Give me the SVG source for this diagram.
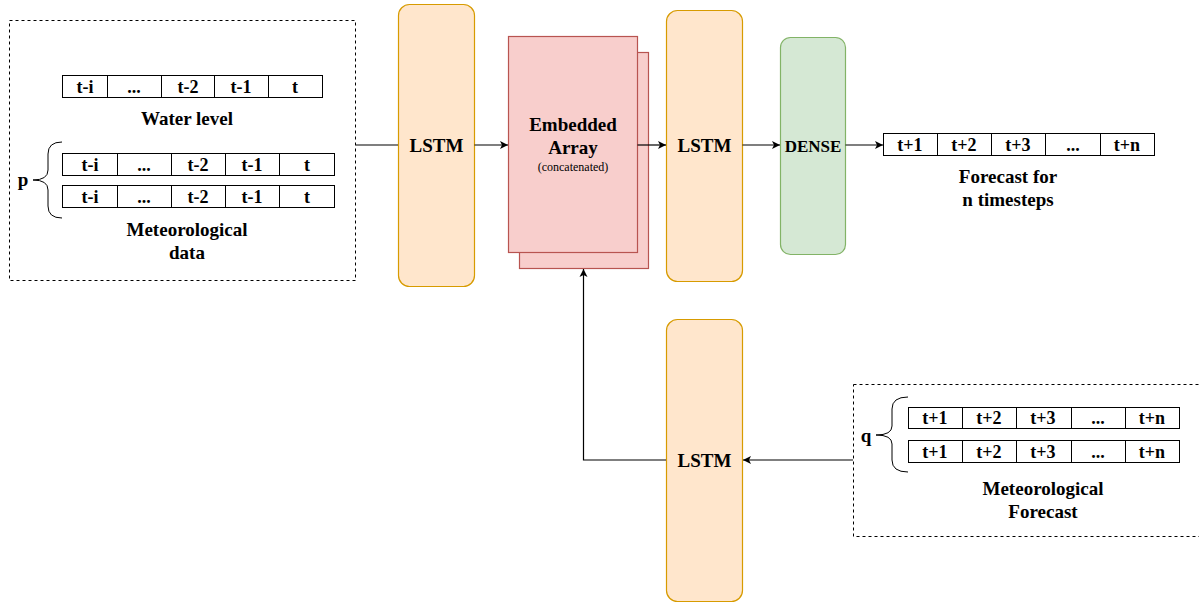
<svg xmlns="http://www.w3.org/2000/svg" width="1199" height="605" viewBox="0 0 1199 605">
<style>
text{font-family:"Liberation Serif","Times New Roman",serif;font-weight:bold;fill:#000;text-anchor:middle}
.cell{fill:#fff;stroke:#000;stroke-width:1}
.ct{font-size:18px}
.lbl{font-size:19px}
.lstm{fill:#ffe6cc;stroke:#d79b00;stroke-width:1.2}
.emb{fill:#f8cecc;stroke:#b85450;stroke-width:1.2}
.dense{fill:#d5e8d4;stroke:#82b366;stroke-width:1.2}
.dash{fill:none;stroke:#000;stroke-width:1;stroke-dasharray:3 3}
.brace{fill:none;stroke:#000;stroke-width:1}
.conn{fill:none;stroke:#000;stroke-width:1.2}
</style>
<defs>
<marker id="arr" markerWidth="10" markerHeight="10" refX="8" refY="5" orient="auto" markerUnits="userSpaceOnUse">
<path d="M0,1 L8,5 L0,9 L2,5 Z" fill="#000"/>
</marker>
</defs>
<rect width="1199" height="605" fill="#fff"/>

<g id="input-history">
<rect class="dash" x="9.5" y="20.5" width="346" height="260"/>
<g id="water-level">
<rect class="cell" x="62.5" y="75.5" width="260" height="22"/>
<line class="cell" x1="107.5" y1="75.5" x2="107.5" y2="97.5"/>
<line class="cell" x1="161.5" y1="75.5" x2="161.5" y2="97.5"/>
<line class="cell" x1="214.5" y1="75.5" x2="214.5" y2="97.5"/>
<line class="cell" x1="268.5" y1="75.5" x2="268.5" y2="97.5"/>
<text class="ct" x="85" y="93">t-i</text>
<text class="ct" x="134" y="93">...</text>
<text class="ct" x="188" y="93">t-2</text>
<text class="ct" x="241" y="93">t-1</text>
<text class="ct" x="295" y="93">t</text>
<text class="lbl" x="187" y="125">Water level</text>
</g>
<g id="met-data">
<rect class="cell" x="62.5" y="153.5" width="272" height="22"/>
<line class="cell" x1="117.5" y1="153.5" x2="117.5" y2="175.5"/>
<line class="cell" x1="171.5" y1="153.5" x2="171.5" y2="175.5"/>
<line class="cell" x1="225.5" y1="153.5" x2="225.5" y2="175.5"/>
<line class="cell" x1="279.5" y1="153.5" x2="279.5" y2="175.5"/>
<text class="ct" x="90" y="171">t-i</text>
<text class="ct" x="144" y="171">...</text>
<text class="ct" x="198" y="171">t-2</text>
<text class="ct" x="252" y="171">t-1</text>
<text class="ct" x="307" y="171">t</text>
<rect class="cell" x="62.5" y="185.5" width="272" height="22"/>
<line class="cell" x1="117.5" y1="185.5" x2="117.5" y2="207.5"/>
<line class="cell" x1="171.5" y1="185.5" x2="171.5" y2="207.5"/>
<line class="cell" x1="225.5" y1="185.5" x2="225.5" y2="207.5"/>
<line class="cell" x1="279.5" y1="185.5" x2="279.5" y2="207.5"/>
<text class="ct" x="90" y="203">t-i</text>
<text class="ct" x="144" y="203">...</text>
<text class="ct" x="198" y="203">t-2</text>
<text class="ct" x="252" y="203">t-1</text>
<text class="ct" x="307" y="203">t</text>
<path class="brace" d="M62,142 Q48,142 48,154 L48,170 Q48,180 33,180 Q48,180 48,190 L48,206 Q48,218 62,218"/>
<text class="lbl" x="23" y="186">p</text>
<text class="lbl" x="187" y="236">Meteorological</text>
<text class="lbl" x="187" y="259">data</text>
</g>
</g>

<g id="lstm1">
<rect class="lstm" x="398.5" y="4.5" width="76" height="282" rx="11"/>
<text class="lbl" x="436.5" y="152">LSTM</text>
</g>

<g id="embedded">
<rect class="emb" x="519.5" y="52.5" width="129" height="216"/>
<rect class="emb" x="508.5" y="36.5" width="129" height="216"/>
<text class="lbl" x="573" y="131">Embedded</text>
<text class="lbl" x="573" y="154">Array</text>
<text x="573" y="171" style="font-size:12px;font-weight:normal">(concatenated)</text>
</g>

<g id="lstm2">
<rect class="lstm" x="666.5" y="10.5" width="76" height="271" rx="11"/>
<text class="lbl" x="704.5" y="152">LSTM</text>
</g>

<g id="dense">
<rect class="dense" x="780.5" y="37.5" width="65" height="217" rx="10"/>
<text x="813" y="152" style="font-size:17px">DENSE</text>
</g>

<g id="forecast-output">
<rect class="cell" x="883.5" y="133.5" width="271" height="22"/>
<line class="cell" x1="937.5" y1="133.5" x2="937.5" y2="155.5"/>
<line class="cell" x1="991.5" y1="133.5" x2="991.5" y2="155.5"/>
<line class="cell" x1="1045.5" y1="133.5" x2="1045.5" y2="155.5"/>
<line class="cell" x1="1100.5" y1="133.5" x2="1100.5" y2="155.5"/>
<text class="ct" x="910" y="151">t+1</text>
<text class="ct" x="964" y="151">t+2</text>
<text class="ct" x="1018" y="151">t+3</text>
<text class="ct" x="1073" y="151">...</text>
<text class="ct" x="1127" y="151">t+n</text>
<text class="lbl" x="1008" y="183">Forecast for</text>
<text class="lbl" x="1008" y="206">n timesteps</text>
</g>

<g id="lstm3">
<rect class="lstm" x="666.5" y="319.5" width="76" height="282" rx="11"/>
<text class="lbl" x="704.5" y="467">LSTM</text>
</g>

<g id="met-forecast">
<rect class="dash" x="853.5" y="384.5" width="350" height="152"/>
<rect class="cell" x="908.5" y="407.5" width="271" height="21"/>
<line class="cell" x1="962.5" y1="407.5" x2="962.5" y2="428.5"/>
<line class="cell" x1="1016.5" y1="407.5" x2="1016.5" y2="428.5"/>
<line class="cell" x1="1071.5" y1="407.5" x2="1071.5" y2="428.5"/>
<line class="cell" x1="1125.5" y1="407.5" x2="1125.5" y2="428.5"/>
<text class="ct" x="935" y="424">t+1</text>
<text class="ct" x="989" y="424">t+2</text>
<text class="ct" x="1043" y="424">t+3</text>
<text class="ct" x="1098" y="424">...</text>
<text class="ct" x="1152" y="424">t+n</text>
<rect class="cell" x="908.5" y="440.5" width="271" height="22"/>
<line class="cell" x1="962.5" y1="440.5" x2="962.5" y2="462.5"/>
<line class="cell" x1="1016.5" y1="440.5" x2="1016.5" y2="462.5"/>
<line class="cell" x1="1071.5" y1="440.5" x2="1071.5" y2="462.5"/>
<line class="cell" x1="1125.5" y1="440.5" x2="1125.5" y2="462.5"/>
<text class="ct" x="935" y="458">t+1</text>
<text class="ct" x="989" y="458">t+2</text>
<text class="ct" x="1043" y="458">t+3</text>
<text class="ct" x="1098" y="458">...</text>
<text class="ct" x="1152" y="458">t+n</text>
<path class="brace" d="M908,397 Q892,397 892,409 L892,426 Q892,435 876,435 Q892,435 892,444 L892,460 Q892,472 908,472"/>
<text class="lbl" x="866" y="442">q</text>
<text class="lbl" x="1043" y="495">Meteorological</text>
<text class="lbl" x="1043" y="518">Forecast</text>
</g>

<g id="connectors">
<path class="conn" d="M356,145 L398,145"/>
<path class="conn" d="M474.5,145 L508,145" marker-end="url(#arr)"/>
<path class="conn" d="M637.5,145 L666,145" marker-end="url(#arr)"/>
<path class="conn" d="M742.5,145 L780,145" marker-end="url(#arr)"/>
<path class="conn" d="M845.5,145 L883,145" marker-end="url(#arr)"/>
<path class="conn" d="M853,460 L743,460" marker-end="url(#arr)"/>
<path class="conn" d="M666,460 L583.5,460 L583.5,269" marker-end="url(#arr)"/>
</g>
</svg>
